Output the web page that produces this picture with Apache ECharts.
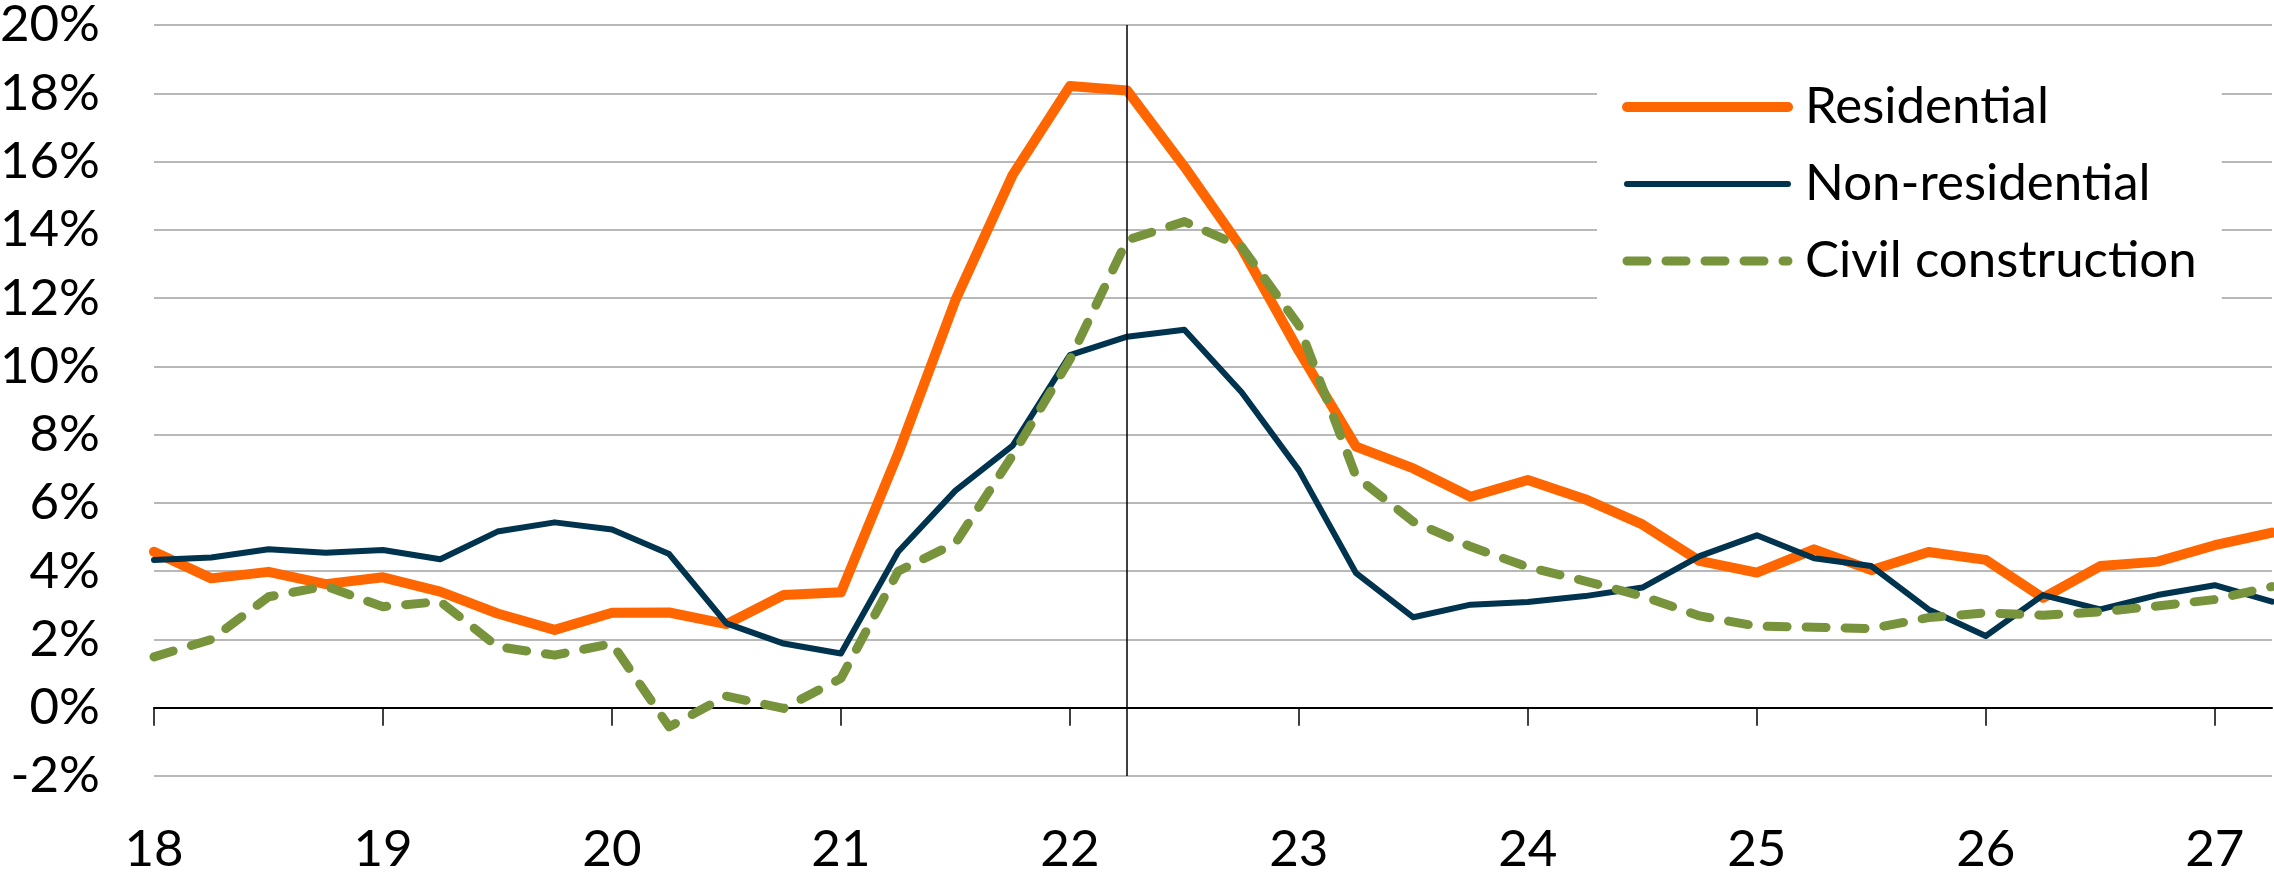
<!DOCTYPE html>
<html>
<head>
<meta charset="utf-8">
<script src="https://cdn.jsdelivr.net/npm/echarts@6/dist/echarts.min.js"></script>
<style>
html,body{margin:0;padding:0;background:#fff;}
#chart{width:2274px;height:878px;}
</style>
</head>
<body>
<div id="chart"></div>
<script>
// Quarterly categories 2018Q1 .. 2027Q2
const quarters = [
  '18Q1','18Q2','18Q3','18Q4','19Q1','19Q2','19Q3','19Q4',
  '20Q1','20Q2','20Q3','20Q4','21Q1','21Q2','21Q3','21Q4',
  '22Q1','22Q2','22Q3','22Q4','23Q1','23Q2','23Q3','23Q4',
  '24Q1','24Q2','24Q3','24Q4','25Q1','25Q2','25Q3','25Q4',
  '26Q1','26Q2','26Q3','26Q4','27Q1','27Q2'
];
const yearLabels = ['18','19','20','21','22','23','24','25','26','27'];

const residential = [
  4.57, 3.79, 3.98, 3.62, 3.82, 3.40, 2.76, 2.28,
  2.78, 2.79, 2.45, 3.30, 3.38, 7.45, 11.94, 15.61,
  18.21, 18.08, 15.85, 13.46, 10.45, 7.65, 7.01, 6.18,
  6.67, 6.11, 5.37, 4.30, 3.96, 4.64, 4.03, 4.56,
  4.33, 3.22, 4.15, 4.28, 4.76, 5.13
];
const nonResidential = [
  4.33, 4.40, 4.64, 4.54, 4.62, 4.35, 5.16, 5.43,
  5.22, 4.50, 2.47, 1.88, 1.59, 4.57, 6.36, 7.68,
  10.33, 10.87, 11.07, 9.24, 6.96, 3.94, 2.65, 3.02,
  3.10, 3.27, 3.52, 4.44, 5.05, 4.38, 4.15, 2.88,
  2.10, 3.30, 2.88, 3.30, 3.59, 3.11
];
const civil = [
  1.49, 2.00, 3.25, 3.56, 2.96, 3.11, 1.79, 1.54,
  1.88, -0.56, 0.34, -0.02, 0.86, 4.00, 4.82, 7.40,
  10.20, 13.70, 14.24, 13.50, 11.20, 6.77, 5.45, 4.72,
  4.12, 3.71, 3.27, 2.69, 2.39, 2.36, 2.32, 2.64,
  2.78, 2.71, 2.81, 2.98, 3.17, 3.55
];
const seriesNames = ['Residential', 'Non-residential', 'Civil construction'];
const seriesColors = ['#FF6600', '#00334E', '#77933C'];
const markerQuarter = '22Q2';

const FONT = 'Lato';
const DASH = [20, 19];
const chart = echarts.init(document.getElementById('chart'), null, {renderer: 'canvas'});

const noDot = {color: 'rgba(0,0,0,0)', borderWidth: 0, opacity: 0};

chart.setOption({
  animation: false,
  backgroundColor: '#ffffff',
  textStyle: {fontFamily: FONT},
  grid: {left: 154, right: 2, top: 25, bottom: 102, containLabel: false, outerBoundsMode: 'none'},
  legend: {
    orient: 'vertical',
    left: 1597,
    top: 57,
    padding: [20, 25, 20, 25],
    backgroundColor: '#ffffff',
    itemWidth: 161,
    itemHeight: 14,
    itemGap: 17,
    textStyle: {fontFamily: FONT, fontSize: 51, color: '#000', lineHeight: 60, padding: [0, 0, 0, 12]},
    data: [
      {name: seriesNames[0], itemStyle: noDot, lineStyle: {width: 10, color: seriesColors[0], cap: 'round'}},
      {name: seriesNames[1], itemStyle: noDot, lineStyle: {width: 6, color: seriesColors[1], cap: 'round'}},
      {name: seriesNames[2], itemStyle: noDot, lineStyle: {width: 9, color: seriesColors[2], type: DASH, cap: 'round'}}
    ]
  },
  xAxis: {
    type: 'category',
    data: quarters,
    boundaryGap: false,
    axisLine: {onZero: true, lineStyle: {color: '#000', width: 2}},
    axisTick: {show: true, interval: 3, length: 18, lineStyle: {color: '#000', width: 1.5}},
    axisLabel: {
      interval: 3,
      margin: 48,
      fontFamily: FONT,
      fontSize: 51,
      color: '#000',
      formatter: function (v) { const y = v.slice(0, 2); return yearLabels.indexOf(y) >= 0 ? y : ''; }
    },
    splitLine: {show: false}
  },
  yAxis: {
    type: 'value',
    min: -2,
    max: 20,
    interval: 2,
    axisLine: {show: false},
    axisTick: {show: false},
    axisLabel: {margin: 54, fontFamily: FONT, fontSize: 51, color: '#000', formatter: '{value}%'},
    splitLine: {show: true, lineStyle: {color: '#a0a0a0', width: 1.5}}
  },
  series: [
    {
      name: seriesNames[0],
      type: 'line',
      data: residential,
      showSymbol: false,
      symbol: 'none',
      color: seriesColors[0],
      lineStyle: {color: seriesColors[0], width: 10, join: 'round', cap: 'round'},
      markLine: {
        silent: true,
        symbol: 'none',
        label: {show: false},
        lineStyle: {color: '#000', width: 1.5, type: 'solid'},
        data: [{xAxis: markerQuarter}]
      }
    },
    {
      name: seriesNames[1],
      type: 'line',
      data: nonResidential,
      showSymbol: false,
      symbol: 'none',
      color: seriesColors[1],
      lineStyle: {color: seriesColors[1], width: 6, join: 'round', cap: 'round'}
    },
    {
      name: seriesNames[2],
      type: 'line',
      data: civil,
      showSymbol: false,
      symbol: 'none',
      color: seriesColors[2],
      lineStyle: {color: seriesColors[2], width: 9, type: DASH, cap: 'round', join: 'round'}
    }
  ]
});
</script>
</body>
</html>
